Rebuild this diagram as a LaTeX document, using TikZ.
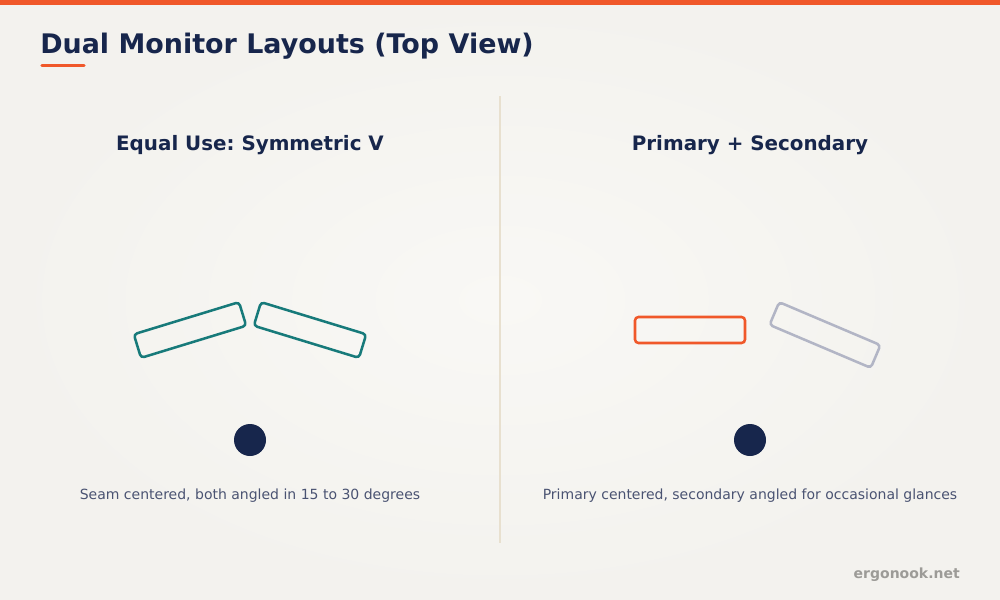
\documentclass[tikz,border=0pt]{standalone}
\usepackage{fontspec}
\setmainfont{DejaVu Sans}
\usepackage{xcolor}
\usepackage{tikz}
\usetikzlibrary{positioning}
\frenchspacing
\definecolor{bgpaper}{HTML}{F9F8F5}
\definecolor{bgedge}{HTML}{F3F2EE}
\definecolor{accent}{HTML}{F0582A}
\definecolor{navy}{HTML}{17264C}
\definecolor{teal}{HTML}{177A7A}
\definecolor{greyline}{HTML}{B2B5C5}
\definecolor{captiongrey}{HTML}{4A5372}
\definecolor{divider}{HTML}{E8E0CF}
\definecolor{markgrey}{HTML}{9C9B97}
\tikzstyle{monitor} = [rectangle, rounded corners=2.6pt, minimum width=82.5pt, minimum height=18.5pt, line width=1.9pt, inner sep=0pt]
\tikzstyle{viewer} = [circle, fill=navy, minimum size=24pt, inner sep=0pt]
\tikzstyle{heading} = [font=\bfseries\fontsize{14.9}{17}\selectfont, text=navy, anchor=base]
\tikzstyle{caption} = [font=\fontsize{10.5}{12}\selectfont, text=captiongrey, anchor=base]

\begin{document}
\begin{tikzpicture}[x=0.75pt, y=-0.75pt]

% background
\shade[inner color=bgpaper, outer color=bgedge] (0,0) rectangle (1000,600);
\useasboundingbox (0,0) rectangle (1000,600);
\fill[accent] (0,0) rectangle (1000,5);

% title
\node (title) [anchor=base west, inner sep=0pt, text=navy, font=\bfseries\fontsize{20.2}{24}\selectfont] at (40,53) {Dual Monitor Layouts (Top View)};
\draw[accent, line width=2.6pt, line cap=round] (42,65.5) -- (84,65.5);

% divider
\coordinate (divtop) at (500,96);
\coordinate (divbot) at (500,543);
\draw[divider, line width=1.2pt] (divtop) -- (divbot);

% left layout
\node (symTitle) [heading] at (250,150) {Equal Use: Symmetric V};
\node (symLeft) [monitor, draw=teal, rotate=17] at (190,330) {};
\node (symRight) [monitor, draw=teal, rotate=-17] at (310,330) {};
\node (symViewer) [viewer] at (250,440) {};
\node (symText) [caption] at (250,499) {Seam centered, both angled in 15 to 30 degrees};

% right layout
\node (primTitle) [heading] at (750,150) {Primary + Secondary};
\node (primary) [monitor, draw=accent, minimum height=19.5pt] at (690,330) {};
\node (secondary) [monitor, draw=greyline, rotate=-23] at (825,335) {};
\node (primViewer) [viewer] at (750,440) {};
\node (primText) [caption] at (750,499) {Primary centered, secondary angled for occasional glances};

% site mark
\node (site) [anchor=base east, inner sep=0pt, text=markgrey, font=\bfseries\fontsize{10.5}{12}\selectfont] at (960,578) {ergonook.net};
\end{tikzpicture}
\end{document}
